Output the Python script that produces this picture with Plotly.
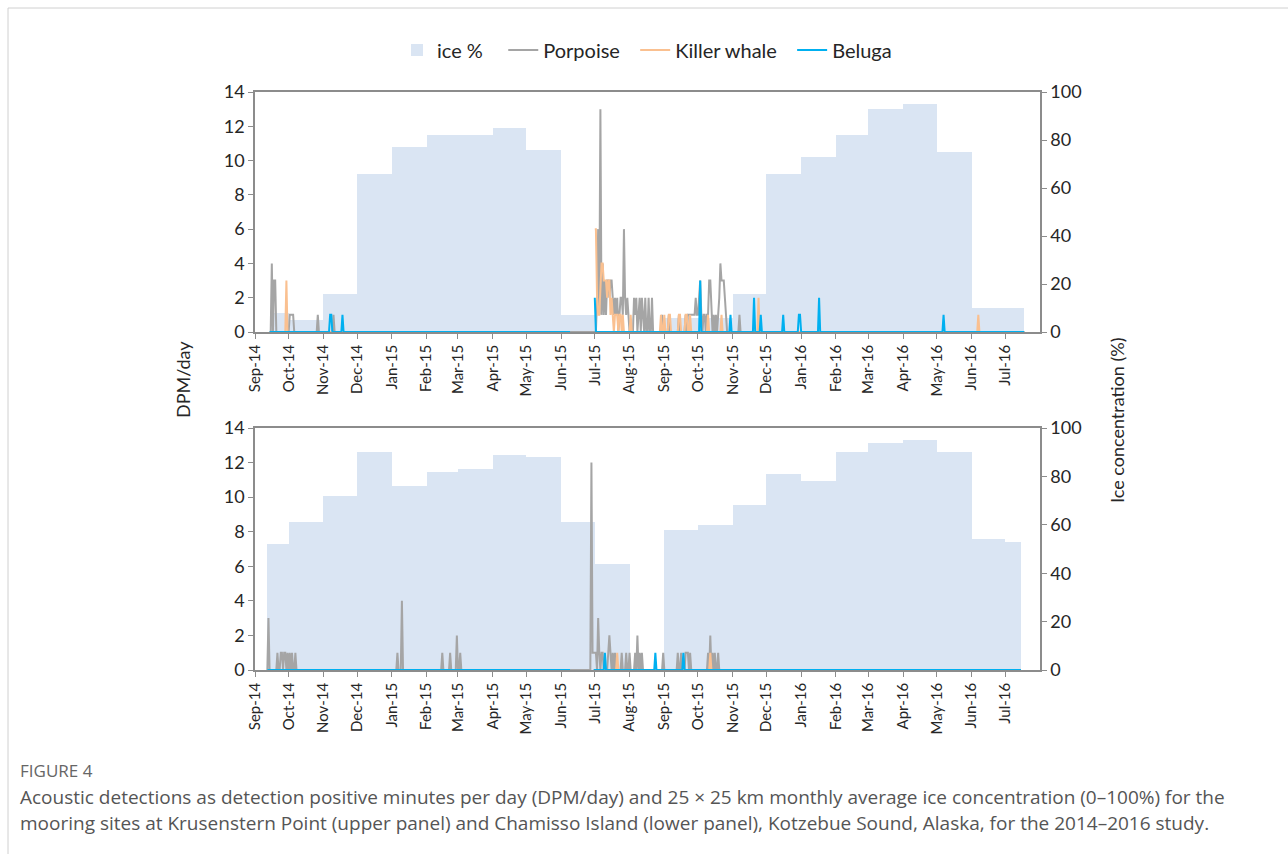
import pandas as pd
import plotly.graph_objects as go

# ---------------------------------------------------------------------------
# Axis labels (monthly ticks)
# ---------------------------------------------------------------------------
tick_dates = ["2014-09-01", "2014-10-01", "2014-11-01", "2014-12-01", "2015-01-01",
              "2015-02-01", "2015-03-01", "2015-04-01", "2015-05-01", "2015-06-01",
              "2015-07-01", "2015-08-01", "2015-09-01", "2015-10-01", "2015-11-01",
              "2015-12-01", "2016-01-01", "2016-02-01", "2016-03-01", "2016-04-01",
              "2016-05-01", "2016-06-01", "2016-07-01"]
tick_labels = ["Sep-14", "Oct-14", "Nov-14", "Dec-14", "Jan-15", "Feb-15", "Mar-15",
               "Apr-15", "May-15", "Jun-15", "Jul-15", "Aug-15", "Sep-15", "Oct-15",
               "Nov-15", "Dec-15", "Jan-16", "Feb-16", "Mar-16", "Apr-16", "May-16",
               "Jun-16", "Jul-16"]

# ---------------------------------------------------------------------------
# Monthly mean ice concentration (%), one value per month Sep-14 .. Jul-16
# ---------------------------------------------------------------------------
ice_krusenstern = [8, 5, 16, 66, 77, 82, 82, 85, 76, 7, 0, 0,
                   6, 6, 16, 66, 73, 82, 93, 95, 75, 10, 10]
ice_chamisso = [52, 61, 72, 90, 76, 82, 83, 89, 88, 61, 44, 0,
                58, 60, 68, 81, 78, 90, 94, 95, 90, 54, 53]

# ---------------------------------------------------------------------------
# Recording periods (start, end, gap between deployments)
# ---------------------------------------------------------------------------
krus_period = ("2014-09-14", "2016-07-18")
krus_gap = ("2015-06-10", "2015-06-30")
cham_period = ("2014-09-12", "2016-07-15")
cham_gap = ("2015-06-10", "2015-06-29")

# ---------------------------------------------------------------------------
# Days with detections (DPM/day); all other recorded days are zero
# ---------------------------------------------------------------------------
krus_porpoise = [
    ("2014-09-16", 4), ("2014-09-18", 3), ("2014-09-19", 3),
    ("2014-10-02", 1), ("2014-10-03", 1), ("2014-10-04", 1), ("2014-10-05", 1),
    ("2014-10-27", 1), ("2014-11-10", 1),
    ("2015-07-03", 2), ("2015-07-04", 6), ("2015-07-05", 1), ("2015-07-06", 13),
    ("2015-07-07", 1), ("2015-07-08", 4), ("2015-07-09", 1), ("2015-07-10", 3),
    ("2015-07-11", 1), ("2015-07-12", 3), ("2015-07-13", 3), ("2015-07-14", 2),
    ("2015-07-15", 3), ("2015-07-16", 3), ("2015-07-17", 2), ("2015-07-18", 1),
    ("2015-07-19", 2), ("2015-07-20", 1), ("2015-07-21", 2), ("2015-07-23", 1),
    ("2015-07-24", 2), ("2015-07-25", 2), ("2015-07-26", 1), ("2015-07-27", 6),
    ("2015-07-28", 2), ("2015-07-29", 1), ("2015-07-30", 2), ("2015-07-31", 1),
    ("2015-08-05", 2), ("2015-08-06", 1), ("2015-08-07", 2), ("2015-08-09", 1),
    ("2015-08-10", 2), ("2015-08-12", 2), ("2015-08-13", 1), ("2015-08-15", 2),
    ("2015-08-18", 2), ("2015-08-21", 2),
    ("2015-08-30", 1), ("2015-09-05", 1), ("2015-09-14", 1), ("2015-09-20", 1),
    ("2015-09-22", 1), ("2015-09-23", 1), ("2015-09-24", 1), ("2015-09-25", 1),
    ("2015-09-26", 1), ("2015-09-27", 1), ("2015-09-28", 1), ("2015-09-29", 2),
    ("2015-09-30", 1), ("2015-10-01", 1), ("2015-10-02", 2), ("2015-10-03", 3),
    ("2015-10-04", 1), ("2015-10-06", 1), ("2015-10-07", 1), ("2015-10-09", 1),
    ("2015-10-10", 1), ("2015-10-11", 3), ("2015-10-12", 3), ("2015-10-13", 1),
    ("2015-10-15", 1), ("2015-10-17", 1), ("2015-10-19", 1), ("2015-10-20", 2),
    ("2015-10-21", 4), ("2015-10-22", 3), ("2015-10-23", 3), ("2015-10-24", 3),
    ("2015-10-25", 2), ("2015-10-26", 1), ("2015-11-07", 1),
]
krus_killer = [
    ("2014-09-29", 3),
    ("2015-07-01", 6), ("2015-07-02", 6), ("2015-07-03", 2), ("2015-07-04", 1),
    ("2015-07-05", 1), ("2015-07-06", 3), ("2015-07-07", 4), ("2015-07-08", 4),
    ("2015-07-09", 3), ("2015-07-10", 3), ("2015-07-11", 3), ("2015-07-12", 2),
    ("2015-07-13", 3), ("2015-07-14", 3), ("2015-07-15", 1), ("2015-07-16", 2),
    ("2015-07-17", 1), ("2015-07-19", 1), ("2015-07-20", 1), ("2015-07-21", 1),
    ("2015-07-23", 1), ("2015-07-24", 1), ("2015-07-26", 1), ("2015-08-02", 1),
    ("2015-08-29", 1), ("2015-09-01", 1), ("2015-09-05", 1), ("2015-09-06", 1),
    ("2015-09-14", 1), ("2015-09-15", 1), ("2015-09-20", 1), ("2015-09-21", 1),
    ("2015-09-24", 1), ("2015-10-10", 1), ("2015-10-22", 1), ("2015-11-24", 2),
    ("2016-06-07", 1),
]
krus_beluga = [
    ("2014-11-07", 1), ("2014-11-08", 1), ("2014-11-18", 1),
    ("2015-07-01", 2), ("2015-10-03", 3), ("2015-10-30", 1), ("2015-11-20", 2),
    ("2015-11-26", 1), ("2015-12-16", 1), ("2015-12-30", 1), ("2015-12-31", 1),
    ("2016-01-17", 2), ("2016-05-07", 1),
]

cham_porpoise = [
    ("2014-09-13", 3), ("2014-09-21", 1), ("2014-09-24", 1), ("2014-09-25", 1),
    ("2014-09-27", 1), ("2014-09-28", 1), ("2014-09-30", 1), ("2014-10-02", 1),
    ("2014-10-04", 1), ("2014-10-07", 1),
    ("2015-01-06", 1), ("2015-01-10", 4),
    ("2015-02-15", 1), ("2015-02-22", 1), ("2015-02-28", 2), ("2015-03-03", 1),
    ("2015-06-28", 12), ("2015-06-29", 1), ("2015-06-30", 1), ("2015-07-01", 1),
    ("2015-07-02", 1), ("2015-07-04", 3), ("2015-07-05", 1), ("2015-07-07", 1),
    ("2015-07-08", 1), ("2015-07-13", 1), ("2015-07-14", 2), ("2015-07-15", 1),
    ("2015-07-17", 1), ("2015-07-19", 1), ("2015-07-25", 1), ("2015-07-29", 1),
    ("2015-08-01", 1), ("2015-08-06", 1), ("2015-08-08", 2), ("2015-08-10", 1),
    ("2015-08-12", 1), ("2015-08-31", 1), ("2015-09-13", 1), ("2015-09-16", 1),
    ("2015-09-20", 1), ("2015-09-21", 1), ("2015-09-22", 1), ("2015-09-24", 1),
    ("2015-10-10", 1), ("2015-10-12", 2), ("2015-10-14", 1), ("2015-10-16", 1),
    ("2015-10-19", 1),
]
cham_killer = [("2015-07-21", 1), ("2015-10-12", 1)]
cham_beluga = [("2015-07-10", 1), ("2015-08-24", 1), ("2015-09-18", 1)]

# ---------------------------------------------------------------------------
# Styling
# ---------------------------------------------------------------------------
ICE_COLOR = "#dae5f3"
PORPOISE_COLOR = "#a5a5a5"
KILLER_COLOR = "#fac090"
BELUGA_COLOR = "#00b0f0"
AXIS_COLOR = "#8c8c8c"
TEXT_COLOR = "#262626"
CAPTION_COLOR = "#555555"
FONT = "Lato"
NBSP = "\u00a0"

# pixel layout of the page
W, H = 1288, 854
PLOT_L, PLOT_R, PLOT_T, PLOT_B = 255, 1040, 92, 670
TOP_PANEL = (92, 332)
BOTTOM_PANEL = (428, 670)
plot_h = PLOT_B - PLOT_T
plot_w = PLOT_R - PLOT_L


def px_x(x):
    return (x - PLOT_L) / plot_w


def px_y(y):
    return (PLOT_B - y) / plot_h


def daily_series(period, gap, events):
    idx = pd.date_range(period[0], period[1], freq="D")
    s = pd.Series(0.0, index=idx)
    for d, v in events:
        s[pd.Timestamp(d)] = v
    if gap is not None:
        s[gap[0]:gap[1]] = float("nan")
    return s


def ice_blocks(period, values):
    starts = [pd.Timestamp(d) for d in tick_dates]
    ends = starts[1:] + [pd.Timestamp(period[1])]
    starts[0] = pd.Timestamp(period[0])
    widths = [(e - s).total_seconds() * 1000 for s, e in zip(starts, ends)]
    return starts, widths


fig = go.Figure()

panels = [
    dict(period=krus_period, gap=krus_gap, ice=ice_krusenstern,
         porpoise=krus_porpoise, killer=krus_killer, beluga=krus_beluga,
         xa="x", ya_ice="y", ya_dpm="y2", legend=True),
    dict(period=cham_period, gap=cham_gap, ice=ice_chamisso,
         porpoise=cham_porpoise, killer=cham_killer, beluga=cham_beluga,
         xa="x2", ya_ice="y3", ya_dpm="y4", legend=False),
]

for p in panels:
    starts, widths = ice_blocks(p["period"], p["ice"])
    fig.add_trace(go.Bar(
        x=starts, y=p["ice"], width=widths, offset=0,
        marker=dict(color=ICE_COLOR, line=dict(width=0)),
        name="ice %" + NBSP * 3, showlegend=p["legend"], legendrank=1,
        xaxis=p["xa"], yaxis=p["ya_ice"],
    ))
    porp = daily_series(p["period"], None, p["porpoise"])
    kill = daily_series(p["period"], p["gap"], p["killer"])
    bel = daily_series(p["period"], p["gap"], p["beluga"])
    for s, name, color, rank in [(porp, "Porpoise" + NBSP * 2, PORPOISE_COLOR, 2),
                                 (kill, "Killer whale" + NBSP * 2, KILLER_COLOR, 3),
                                 (bel, "Beluga", BELUGA_COLOR, 4)]:
        fig.add_trace(go.Scatter(
            x=s.index, y=s.values, mode="lines", name=name,
            line=dict(color=color, width=2),
            showlegend=p["legend"], legendrank=rank,
            xaxis=p["xa"], yaxis=p["ya_dpm"],
        ))

xaxis_common = dict(
    type="date", range=["2014-09-01", "2016-08-01"],
    tickmode="array", tickvals=tick_dates, ticktext=tick_labels,
    tickangle=-90, ticks="outside", ticklen=5, tickcolor=AXIS_COLOR,
    showline=True, linecolor=AXIS_COLOR, linewidth=1.5, mirror=True,
    showgrid=False, zeroline=False,
    tickfont=dict(family=FONT, size=15, color=TEXT_COLOR),
)
yice_common = dict(
    range=[0, 100], tickmode="array", tickvals=[0, 20, 40, 60, 80, 100],
    side="right", ticks="outside", ticklen=5, tickcolor=AXIS_COLOR,
    showline=True, linecolor=AXIS_COLOR, linewidth=1.5,
    showgrid=False, zeroline=False,
    tickfont=dict(family=FONT, size=18, color=TEXT_COLOR),
)
ydpm_common = dict(
    range=[0, 14], tickmode="array", tickvals=[0, 2, 4, 6, 8, 10, 12, 14],
    side="left", ticks="outside", ticklen=5, tickcolor=AXIS_COLOR,
    showline=True, linecolor=AXIS_COLOR, linewidth=1.5,
    showgrid=False, zeroline=False,
    tickfont=dict(family=FONT, size=18, color=TEXT_COLOR),
)

top_dom = [px_y(TOP_PANEL[1]), px_y(TOP_PANEL[0])]
bot_dom = [px_y(BOTTOM_PANEL[1]), px_y(BOTTOM_PANEL[0])]

fig.update_layout(
    width=W, height=H,
    margin=dict(l=PLOT_L, r=W - PLOT_R, t=PLOT_T, b=H - PLOT_B, pad=0),
    paper_bgcolor="white", plot_bgcolor="rgba(0,0,0,0)",
    font=dict(family=FONT, color=TEXT_COLOR),
    xaxis=dict(xaxis_common, domain=[0, 1], anchor="y"),
    yaxis=dict(yice_common, domain=top_dom, anchor="x"),
    yaxis2=dict(ydpm_common, overlaying="y", anchor="x"),
    xaxis2=dict(xaxis_common, domain=[0, 1], anchor="y3"),
    yaxis3=dict(yice_common, domain=bot_dom, anchor="x2"),
    yaxis4=dict(ydpm_common, overlaying="y3", anchor="x2"),
    showlegend=True,
    legend=dict(orientation="h", x=px_x(647), xanchor="center",
                y=px_y(50), yanchor="middle",
                font=dict(family=FONT, size=20, color=TEXT_COLOR),
                itemwidth=30, traceorder="normal",
                bgcolor="rgba(0,0,0,0)"),
    bargap=0,
)

annotations = [
    dict(text="DPM/day", x=px_x(183), y=px_y(380), textangle=-90,
         font=dict(family=FONT, size=18, color=TEXT_COLOR)),
    dict(text="Ice concentration (%)", x=px_x(1117), y=px_y(420), textangle=-90,
         font=dict(family=FONT, size=18, color=TEXT_COLOR)),
    dict(text="FIGURE 4", x=px_x(18), y=px_y(770), xanchor="left",
         font=dict(family="Open Sans", size=17, color="#666666")),
    dict(text="Acoustic detections as detection positive minutes per day (DPM/day) and "
              "25 \u00d7 25 km monthly average ice concentration (0\u2013100%) for the",
         x=px_x(18), y=px_y(797), xanchor="left",
         font=dict(family="Open Sans", size=19, color=CAPTION_COLOR)),
    dict(text="mooring sites at Krusenstern Point (upper panel) and Chamisso Island "
              "(lower panel), Kotzebue Sound, Alaska, for the 2014\u20132016 study.",
         x=px_x(18), y=px_y(823), xanchor="left",
         font=dict(family="Open Sans", size=19, color=CAPTION_COLOR)),
]
for a in annotations:
    a.update(xref="paper", yref="paper", showarrow=False, yanchor="middle")
    a.setdefault("xanchor", "center")
fig.update_layout(annotations=annotations)

# thin page frame along the top and left edges
fig.add_shape(type="line", xref="paper", yref="paper",
              x0=px_x(8), x1=px_x(W), y0=px_y(8), y1=px_y(8),
              line=dict(color="#d0d0d0", width=1))
fig.add_shape(type="line", xref="paper", yref="paper",
              x0=px_x(8), x1=px_x(8), y0=px_y(8), y1=px_y(H),
              line=dict(color="#d0d0d0", width=1))

fig.write_html("out.html")
